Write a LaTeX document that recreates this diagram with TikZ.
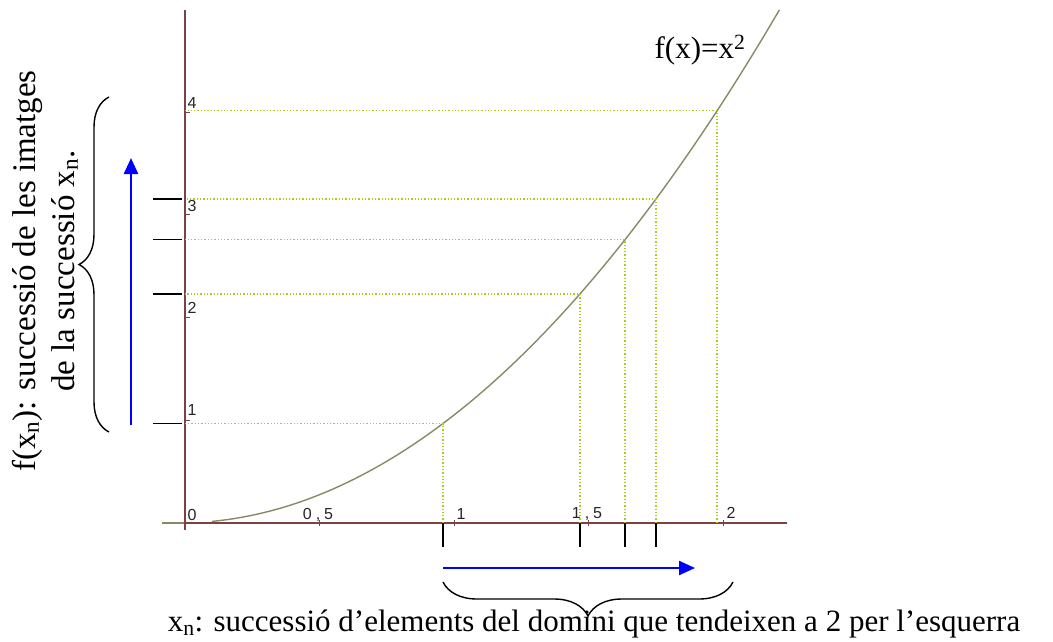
\documentclass[tikz,border=0pt]{standalone}
\usepackage{fontspec}
\setmainfont{Liberation Serif}
\newfontfamily\ticksfont{Liberation Sans}
\usetikzlibrary{arrows.meta,decorations.pathreplacing}

\definecolor{axiscol}{RGB}{122,66,66}
\definecolor{curvecol}{RGB}{136,138,100}
\definecolor{guidecol}{RGB}{168,204,32}

\begin{document}
\begin{tikzpicture}[x=1pt, y=-1pt,
        axis/.style = {draw=axiscol, line width=1.6pt},
        curve/.style = {draw=curvecol, line width=1.4pt},
        guide/.style = {draw=guidecol, line width=1.3pt, dotted},
        seqmark/.style = {draw=black, line width=1.7pt},
        bluearrow/.style = {draw=blue, line width=2.4pt, -{Triangle[length=16pt,width=14pt]}},
        bracket/.style = {draw=black, line width=1.4pt, decorate, decoration={brace, amplitude=#1}},
        ticklabel/.style = {font=\ticksfont\fontsize{16}{16}\selectfont, inner sep=0pt, text=black!85},
        bigtext/.style = {font=\fontsize{31}{38}\selectfont, inner sep=0pt}
        ]
        \useasboundingbox (0,0) rectangle (1053,641);

        \draw[curvecol, line width=1.6pt] (162,523) -- (185,523);
        \draw[axis] (185,523) -- (787,523);
        \draw[axis] (185,10) -- (185,530);

        \begin{scope}[shift={(185,523)}, x=269pt, y=102.75pt]
                \draw[curve] plot[domain=0.1:2.21, samples=80, smooth] (\x, {(\x+0.025)^2});
                \foreach \xv in {0.5,1,1.5,2}
                        \draw[axis, line width=1pt] (\xv,0) ++(0pt,-3pt) -- ++(0pt,6pt);
                \foreach \yv in {1,2,3,4}
                        \draw[axis, line width=1pt] (0,\yv) -- ++(5pt,0pt);
                \foreach \xv [count=\i] in {0.959,1.468,1.636,1.751,1.978} {
                        \coordinate (x\i) at (\xv,0);
                        \coordinate (y\i) at (0,{(\xv+0.025)^2});
                        \coordinate (p\i) at (\xv,{(\xv+0.025)^2});
                        \draw[guide] (x\i) -- (p\i) -- (y\i);
                }
                \foreach \i in {1,2,3,4} {
                        \draw[seqmark] (x\i) -- ([yshift=-24pt]x\i);
                        \draw[seqmark] ([xshift=-32pt]y\i) -- ([xshift=-3pt]y\i);
                }
        \end{scope}

        \node[ticklabel] (lx0) at (192,515) {0};
        \node[ticklabel] (lx05) at (318,515) {0\hspace{4pt},\hspace{4pt}5};
        \node[ticklabel] (lx1) at (461,514) {1};
        \node[ticklabel] (lx15) at (587,514) {1\hspace{4pt},\hspace{4pt}5};
        \node[ticklabel] (lx2) at (731,513) {2};
        \node[ticklabel] (ly1) at (192,410) {1};
        \node[ticklabel] (ly2) at (192,308) {2};
        \node[ticklabel] (ly3) at (192,206) {3};
        \node[ticklabel] (ly4) at (192,103) {4};

        \node[bigtext] (fname) at (700,50) {f(x)=x\textsuperscript{2}};

        \coordinate (ubottom) at (131,425);
        \coordinate (utop) at (131,158);
        \draw[bluearrow] (ubottom) -- (utop);
        \coordinate (rleft) at (443,568);
        \coordinate (rright) at (695,568);
        \draw[bluearrow] (rleft) -- (rright);

        \coordinate (bl1) at (109,432);
        \coordinate (bl2) at (109,97);
        \draw[bracket=30pt] (bl1) -- (bl2);
        \coordinate (bb1) at (733,582);
        \coordinate (bb2) at (443,582);
        \draw[bracket=34pt] (bb1) -- (bb2);

        \node[bigtext, rotate=90, align=center, font=\fontsize{33}{39}\selectfont] (imgtext) at (45,271)
                {f(x\textsubscript{n}): successió de les imatges\\de la successió x\textsubscript{n}.};
        \node[bigtext] (domtext) at (594,624)
                {x\textsubscript{n}: successió d’elements del domini que tendeixen a 2 per l’esquerra};
\end{tikzpicture}
\end{document}
